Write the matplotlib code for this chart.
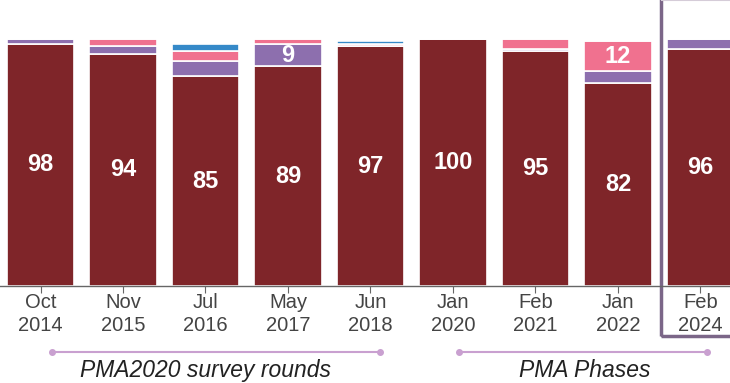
import numpy as np
import matplotlib.pyplot as plt
from matplotlib.patches import Rectangle

plt.rcParams['font.family'] = ['Liberation Sans', 'DejaVu Sans']

# Данные по раундам опроса
rounds = ['Oct\n2014', 'Nov\n2015', 'Jul\n2016', 'May\n2017', 'Jun\n2018',
          'Jan\n2020', 'Feb\n2021', 'Jan\n2022', 'Feb\n2024']
main = [98, 94, 85, 89, 97, 100, 95, 82, 96]
purple = [2, 3, 6, 9, 0, 0, 1, 5, 4]
pink = [0, 3, 4, 2, 1, 0, 4, 12, 0]
blue = [0, 0, 3, 0, 1, 0, 0, 0, 0]

groups = ['PMA2020 survey rounds', 'PMA Phases']
group_spans = [(0.14, 4.115), (5.07, 8.08)]
group_text_x = [2.0, 6.6]

colors = ['#7f2529', '#8d6fae', '#f0718f', '#3589c8']
series = [main, purple, pink, blue]

fig = plt.figure(figsize=(7.3, 3.83), dpi=100)
ax = fig.add_axes([0, 0.2533, 1, 0.7467])

x = np.arange(len(rounds))
bottom = np.zeros(len(rounds))
for vals, c in zip(series, colors):
    vals = np.array(vals, dtype=float)
    ax.bar(x, vals, width=0.82, bottom=bottom, color=c,
           edgecolor='white', linewidth=1.2)
    for xi, b, v in zip(x, bottom, vals):
        if v >= 9:
            ax.text(xi, b + v / 2, f'{int(v)}', ha='center', va='center',
                    color='white', fontsize=17, fontweight='bold')
    bottom += vals

ax.set_xlim(-0.491, 8.358)
ax.set_ylim(0, 115.8)
ax.set_xticks(x)
ax.set_xticklabels(rounds, fontsize=14.5, color='#444444', linespacing=1.25)
ax.tick_params(axis='x', length=5, color='#666666', pad=0)
ax.set_yticks([])
for s in ['top', 'right', 'left']:
    ax.spines[s].set_visible(False)
ax.spines['bottom'].set_color('#666666')
ax.spines['bottom'].set_linewidth(1)
ax.spines['bottom'].set_zorder(5)

# Подписи групп снизу
for (x0, x1), tx, name in zip(group_spans, group_text_x, groups):
    ax.plot([x0, x1], [-26.7, -26.7], color='#c9a0d0', lw=1.5,
            marker='o', markersize=4, clip_on=False)
    ax.text(tx, -34.3, name, ha='center', va='center',
            fontsize=16.5, style='italic', color='#222222', clip_on=False)

# Рамка вокруг последнего раунда
ax.add_patch(Rectangle((7.52, -20.2), 1.5, 145, fill=False,
                       edgecolor='#7b6688', lw=2.5, clip_on=False))
ax.plot([7.53, 8.6], [115.6, 115.6], color='#d5ccd8', lw=1.5, clip_on=False)

plt.savefig('out.png', dpi=100)
